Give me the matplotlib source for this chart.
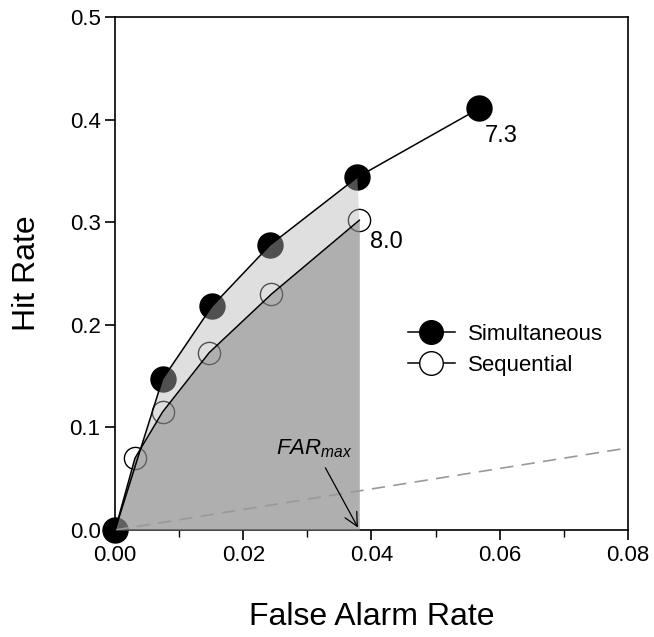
import matplotlib.pyplot as plt
import numpy as np

plt.rcParams['font.family'] = ['Liberation Sans', 'DejaVu Sans']
plt.rcParams['mathtext.fontset'] = 'custom'
plt.rcParams['mathtext.it'] = 'Liberation Sans:italic'
plt.rcParams['mathtext.rm'] = 'Liberation Sans'

sim_far = [0.0, 0.0074, 0.0151, 0.0242, 0.0378, 0.0568]
sim_hit = [0.0, 0.147, 0.218, 0.278, 0.344, 0.411]
seq_far = [0.0, 0.0031, 0.0074, 0.0147, 0.0244, 0.0381]
seq_hit = [0.0, 0.070, 0.115, 0.173, 0.230, 0.302]
chance_far = [0.0, 0.08]
chance_hit = [0.0, 0.08]
far_max = 0.0381

sim_far = np.array(sim_far)
sim_hit = np.array(sim_hit)
seq_far = np.array(seq_far)
seq_hit = np.array(seq_hit)

fig = plt.figure(figsize=(6.54, 6.37), dpi=100)
ax = fig.add_axes([0.176, 0.168, 0.784, 0.805])

# markers first, shading goes over them
ax.plot(sim_far, sim_hit, 'o', color='black', markersize=18, zorder=2,
        clip_on=False)
ax.plot(seq_far[1:], seq_hit[1:], 'o', markerfacecolor='white',
        markeredgecolor='black', markeredgewidth=1.0, markersize=16, zorder=2)

# shading: light band between the curves, darker area under sequential
keep = sim_far <= far_max
band_x = np.concatenate([sim_far[keep], seq_far[::-1]])
band_y = np.concatenate([sim_hit[keep], seq_hit[::-1]])
ax.fill(band_x, band_y, color=(0.72, 0.72, 0.72), alpha=0.44,
        linewidth=0, zorder=3)
ax.fill_between(seq_far, seq_hit, 0, color=(0.55, 0.55, 0.55), alpha=0.69,
                linewidth=0, zorder=3)

ax.plot(chance_far, chance_hit, '--', color='#999999', linewidth=1.2,
        dashes=(8, 5), zorder=3.5)
ax.plot(sim_far, sim_hit, '-', color='black', linewidth=1.1, zorder=4)
ax.plot(seq_far, seq_hit, '-', color='black', linewidth=1.1, zorder=4)

# legend handles
ax.plot([], [], '-o', color='black', markersize=17, linewidth=1.1,
        label='Simultaneous')
ax.plot([], [], '-o', color='black', markerfacecolor='white',
        markeredgewidth=1.0, markersize=17, linewidth=1.1, label='Sequential')
ax.legend(loc='center left', bbox_to_anchor=(0.571, 0.351), frameon=False,
          fontsize=16, handlelength=2.1, handletextpad=0.6, labelspacing=0.45,
          borderpad=0, borderaxespad=0)

ax.text(sim_far[-1] + 0.0009, sim_hit[-1] - 0.027, '7.3', fontsize=17,
        ha='left', va='center')
ax.text(seq_far[-1] + 0.0017, seq_hit[-1] - 0.021, '8.0', fontsize=17,
        ha='left', va='center')

ax.annotate('', xy=(far_max, 0.0), xytext=(0.0326, 0.063),
            arrowprops=dict(arrowstyle='->', color='black', lw=0.9,
                            mutation_scale=24), zorder=5)
ax.text(0.031, 0.079, r'$FAR_{max}$', fontsize=16,
        ha='center', va='center')

ax.set_xlim(0, 0.08)
ax.set_ylim(0, 0.5)
ax.set_xticks([0, 0.02, 0.04, 0.06, 0.08])
ax.set_xticks([0.01, 0.03, 0.05, 0.07], minor=True)
ax.set_yticks([0, 0.1, 0.2, 0.3, 0.4, 0.5])
ax.set_xticklabels(['0.00', '0.02', '0.04', '0.06', '0.08'])
ax.set_yticklabels(['0.0', '0.1', '0.2', '0.3', '0.4', '0.5'])
ax.tick_params(which='major', direction='out', length=7, width=1.2,
               labelsize=16)
ax.tick_params(which='minor', direction='out', length=5, width=1.0)
for s in ax.spines.values():
    s.set_linewidth(1.2)
ax.set_xlabel('False Alarm Rate', fontsize=23, labelpad=26)
ax.set_ylabel('Hit Rate', fontsize=23, labelpad=20)

fig.savefig('out.png', dpi=100)
